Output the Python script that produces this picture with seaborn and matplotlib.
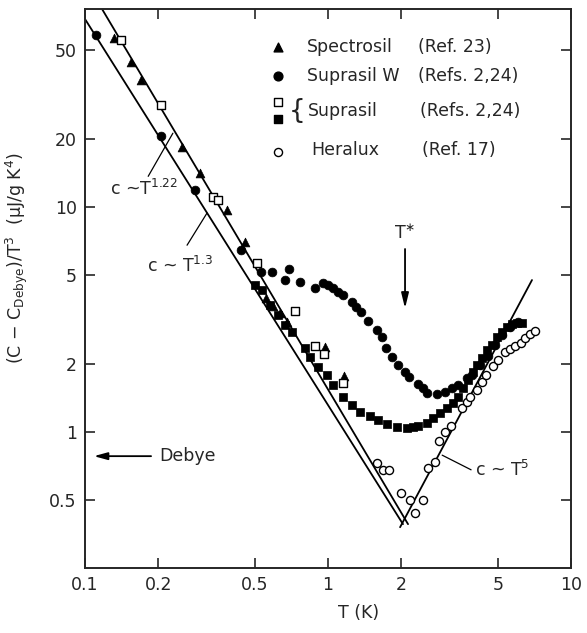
import numpy as np
import pandas as pd
import seaborn as sns
import matplotlib
matplotlib.use("Agg")
import matplotlib.pyplot as plt

# ---------------- data ----------------
spectrosil_T = [0.132, 0.155, 0.170, 0.251, 0.297, 0.384, 0.455, 0.556, 0.594, 0.634, 0.678, 0.972, 1.164]
spectrosil_C = [56.4, 44.1, 36.7, 18.5, 14.2, 9.7, 7.0, 3.94, 3.63, 3.38, 3.08, 2.39, 1.77]

suprasilW_T = [0.111, 0.206, 0.284, 0.438, 0.530, 0.589, 0.665, 0.691, 0.767, 0.884, 0.954, 1.00,
               1.048, 1.099, 1.153, 1.255, 1.304, 1.367, 1.461, 1.591, 1.668, 1.732, 1.834, 1.941,
               2.075, 2.154, 2.344, 2.457, 2.554, 2.809, 3.03, 3.24, 3.43, 3.73, 3.91, 4.22, 4.55,
               4.87, 5.20, 5.61, 6.06]
suprasilW_C = [58.1, 20.7, 11.9, 6.44, 5.14, 5.14, 4.74, 5.30, 4.64, 4.37, 4.59, 4.50,
               4.37, 4.19, 4.06, 3.78, 3.59, 3.41, 3.11, 2.84, 2.64, 2.36, 2.15, 1.99,
               1.85, 1.76, 1.63, 1.57, 1.49, 1.475, 1.505, 1.57, 1.62, 1.74, 1.79, 1.99, 2.18,
               2.44, 2.70, 2.93, 3.08]

suprasil_open_T = [0.141, 0.206, 0.336, 0.353, 0.510, 0.732, 0.884, 0.963, 1.153]
suprasil_open_C = [55.2, 28.4, 11.1, 10.7, 5.64, 3.45, 2.41, 2.22, 1.65]

suprasil_fill_T = [0.501, 0.535, 0.577, 0.623, 0.665, 0.711, 0.804, 0.843, 0.910, 0.991, 1.048,
                   1.153, 1.255, 1.354, 1.489, 1.605, 1.749, 1.922, 2.113, 2.236, 2.344, 2.554,
                   2.703, 2.890, 3.09, 3.27, 3.43, 3.59, 3.76, 3.95, 4.10, 4.30, 4.51, 4.73,
                   4.95, 5.20, 5.45, 5.72, 6.00, 6.28]
suprasil_fill_C = [4.50, 4.28, 3.67, 3.31, 2.99, 2.78, 2.36, 2.15, 1.94, 1.79, 1.62,
                   1.43, 1.32, 1.23, 1.18, 1.13, 1.085, 1.05, 1.04, 1.05, 1.07, 1.10,
                   1.15, 1.21, 1.28, 1.35, 1.43, 1.57, 1.70, 1.85, 1.99, 2.13, 2.31, 2.44,
                   2.64, 2.78, 2.93, 3.02, 3.05, 3.05]

heralux_T = [1.591, 1.683, 1.783, 1.997, 2.174, 2.281, 2.457, 2.579, 2.757, 2.863, 3.03, 3.21,
             3.56, 3.73, 3.84, 4.11, 4.30, 4.47, 4.77, 5.00, 5.35, 5.61, 5.88, 6.22, 6.45,
             6.77, 7.10]
heralux_C = [0.728, 0.678, 0.678, 0.536, 0.499, 0.437, 0.499, 0.692, 0.736, 0.912, 1.0, 1.063,
             1.28, 1.36, 1.43, 1.54, 1.67, 1.79, 1.96, 2.09, 2.27, 2.34, 2.41, 2.49, 2.62,
             2.73, 2.81]

# power-law guide lines (end points)
line122_T = [0.1175, 2.135]
line122_C = [75.9, 0.390]
line13_T = [0.100, 2.035]
line13_C = [68.5, 0.390]
line5_T = [1.98, 6.91]
line5_C = [0.378, 4.74]

x_ticks = [0.1, 0.2, 0.5, 1, 2, 5, 10]
x_ticklabels = ["0.1", "0.2", "0.5", "1", "2", "5", "10"]
y_ticks = [0.5, 1, 2, 5, 10, 20, 50]
y_ticklabels = ["0.5", "1", "2", "5", "10", "20", "50"]

# ---------------- figure ----------------
sns.set_style("ticks")
plt.rcParams["font.family"] = ["DejaVu Sans"]
plt.rcParams["mathtext.fontset"] = "dejavusans"

fig = plt.figure(figsize=(5.87, 6.33), dpi=100)
ax = fig.add_axes([85 / 587, 1 - 568 / 633, (571 - 85) / 587, (568 - 9) / 633])
ax.set_xscale("log")
ax.set_yscale("log")

lw_line = 1.3
for xs, ys in [(line122_T, line122_C), (line13_T, line13_C), (line5_T, line5_C)]:
    sns.lineplot(x=xs, y=ys, ax=ax, color="black", lw=lw_line, zorder=2, sort=False,
                 estimator=None)

sns.scatterplot(x=heralux_T, y=heralux_C, ax=ax, marker="o", s=34, color="white",
                edgecolor="black", linewidth=1.0, zorder=3)
sns.scatterplot(x=suprasil_fill_T, y=suprasil_fill_C, ax=ax, marker="s", s=34, color="black",
                edgecolor="black", linewidth=0.5, zorder=4)
sns.scatterplot(x=suprasilW_T, y=suprasilW_C, ax=ax, marker="o", s=40, color="black",
                edgecolor="black", linewidth=0.5, zorder=5)
sns.scatterplot(x=spectrosil_T, y=spectrosil_C, ax=ax, marker="^", s=40, color="black",
                edgecolor="black", linewidth=0.5, zorder=6)
sns.scatterplot(x=suprasil_open_T, y=suprasil_open_C, ax=ax, marker="s", s=34, color="white",
                edgecolor="black", linewidth=1.0, zorder=7)

ax.set_xlim(0.1, 10)
ax.set_ylim(0.249, 75.9)
ax.minorticks_off()
ax.set_xticks(x_ticks)
ax.set_xticklabels(x_ticklabels)
ax.set_yticks(y_ticks)
ax.set_yticklabels(y_ticklabels)
ax.minorticks_off()
ax.tick_params(which="major", direction="in", length=7, width=1.2, top=True, right=True,
               labelsize=12.5, pad=6)
for sp in ax.spines.values():
    sp.set_visible(True)
    sp.set_linewidth(1.4)

ax.set_xlabel("T (K)", fontsize=12.5, va="center")
ax.xaxis.set_label_coords((359 - 85) / 486, (568 - 613) / 559)
ax.set_ylabel(r"(C $-$ C$_{\mathrm{Debye}}$)/T$^{3}$  ($\mathrm{\mu}$J/g K$^{4}$)", fontsize=12.5)
ax.yaxis.set_label_coords((30 - 85) / 486, (568 - 258) / 559)

fs = 12.5
# fit labels with leader lines
ax.text(0.127, 12.0, r"c ~T$^{1.22}$", fontsize=fs, va="center", ha="left")
ax.plot([0.182, 0.230], [13.7, 21.3], color="black", lw=0.9)
ax.text(0.180, 5.5, r"c ~ T$^{1.3}$", fontsize=fs, va="center", ha="left")
ax.plot([0.263, 0.318], [6.77, 9.42], color="black", lw=0.9)
ax.text(4.03, 0.68, r"c ~ T$^{5}$", fontsize=fs, va="center", ha="left")
ax.plot([2.95, 3.88], [0.79, 0.68], color="black", lw=0.9)

# T* arrow
ax.text(2.075, 7.6, r"T$^{\ast}$", fontsize=fs, ha="center", va="center")
ax.annotate("", xy=(2.075, 3.45), xytext=(2.075, 6.7),
            arrowprops=dict(arrowstyle="-|>,head_length=0.9,head_width=0.22",
                            color="black", lw=1.3))
# Debye arrow
ax.annotate("", xy=(0.106, 0.782), xytext=(0.192, 0.782),
            arrowprops=dict(arrowstyle="-|>,head_length=0.8,head_width=0.22",
                            color="black", lw=1.3))
ax.text(0.203, 0.782, "Debye", fontsize=fs, ha="left", va="center")

# legend (drawn manually in axes coordinates)
tr = ax.transAxes
mk_x = 0.397
ax.scatter([mk_x], [0.932], transform=tr, marker="^", s=40, color="black", clip_on=False)
ax.scatter([mk_x], [0.880], transform=tr, marker="o", s=40, color="black", clip_on=False)
ax.scatter([mk_x], [0.834], transform=tr, marker="s", s=30, facecolor="white",
           edgecolor="black", linewidth=1.0, clip_on=False)
ax.scatter([mk_x], [0.803], transform=tr, marker="s", s=30, color="black", clip_on=False)
ax.scatter([mk_x], [0.744], transform=tr, marker="o", s=34, facecolor="white",
           edgecolor="black", linewidth=1.0, clip_on=False)
ax.text(0.457, 0.932, "Spectrosil", transform=tr, fontsize=fs, va="center")
ax.text(0.685, 0.932, "(Ref. 23)", transform=tr, fontsize=fs, va="center")
ax.text(0.457, 0.880, "Suprasil W", transform=tr, fontsize=fs, va="center")
ax.text(0.685, 0.880, "(Refs. 2,24)", transform=tr, fontsize=fs, va="center")
ax.text(0.420, 0.818, "{", transform=tr, fontsize=19, va="center", color="#222222")
ax.text(0.459, 0.818, "Suprasil", transform=tr, fontsize=fs, va="center")
ax.text(0.689, 0.818, "(Refs. 2,24)", transform=tr, fontsize=fs, va="center")
ax.text(0.465, 0.748, "Heralux", transform=tr, fontsize=fs, va="center")
ax.text(0.693, 0.748, "(Ref. 17)", transform=tr, fontsize=fs, va="center")

fig.savefig("out.png", dpi=100)
